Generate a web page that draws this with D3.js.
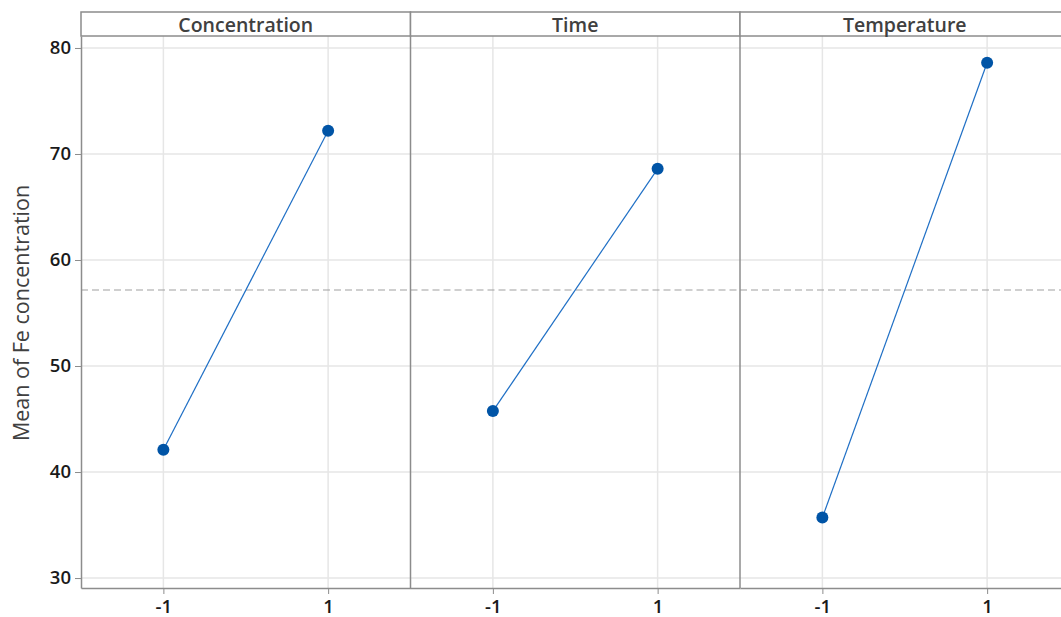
<!DOCTYPE html>
<html>
<head>
<meta charset="utf-8">
<script src="https://cdn.jsdelivr.net/npm/d3@7"></script>
<style>
body { margin: 0; background: #fff; }
text { font-family: "Open Sans", "Noto Sans", sans-serif; }
</style>
</head>
<body>
<div id="chart"></div>
<script>
// main effects plot data
var factors = ["Concentration", "Time", "Temperature"];
var levels = [-1, 1];
var levelLabels = ["-1", "1"];
var concentrationMeans = [42.1, 72.2];
var timeMeans = [45.75, 68.6];
var temperatureMeans = [35.7, 78.6];
var grandMean = 57.17;
var yTicks = [30, 40, 50, 60, 70, 80];

var series = [concentrationMeans, timeMeans, temperatureMeans];

var width = 1061, height = 617;
var plotLeft = 81, plotTop = 36, plotBottom = 588, panelW = 329.5;

var svg = d3.select("#chart").append("svg")
	.attr("width", width)
	.attr("height", height);

var y = d3.scaleLinear().domain([29.06, 81.13]).range([plotBottom, plotTop]);

// y label
svg.append("text")
	.attr("transform", "translate(29," + ((plotTop + plotBottom) / 2 + 1) + ") rotate(-90)")
	.attr("text-anchor", "middle")
	.style("font-size", "21.5px")
	.style("fill", "#404040")
	.text("Mean of Fe concentration");

factors.forEach(function(f, i) {
	var x0 = plotLeft + i * panelW;
	var x = d3.scaleLinear().domain([-2, 2]).range([x0, x0 + panelW]);
	var g = svg.append("g");

	// grid
	g.selectAll(".hg").data(yTicks).enter().append("line")
		.attr("x1", x0).attr("x2", x0 + panelW)
		.attr("y1", function(d) { return y(d); })
		.attr("y2", function(d) { return y(d); })
		.style("stroke", "#e6e6e6").style("stroke-width", 1.5);
	g.selectAll(".vg").data(levels).enter().append("line")
		.attr("x1", function(d) { return x(d); })
		.attr("x2", function(d) { return x(d); })
		.attr("y1", plotTop).attr("y2", plotBottom)
		.style("stroke", "#e6e6e6").style("stroke-width", 1.5);

	// mean reference line
	g.append("line")
		.attr("x1", x0).attr("x2", x0 + panelW)
		.attr("y1", y(grandMean)).attr("y2", y(grandMean))
		.style("stroke", "#a0a0a0").style("stroke-width", 1.2)
		.style("stroke-dasharray", "7,4");

	// strip
	g.append("rect")
		.attr("x", x0).attr("y", 12)
		.attr("width", panelW).attr("height", plotTop - 12)
		.style("fill", "#fff").style("stroke", "#8c8c8c").style("stroke-width", 1.5);
	g.append("text")
		.attr("x", x0 + panelW / 2).attr("y", 32)
		.attr("text-anchor", "middle")
		.style("font-size", "19.5px").style("font-weight", 600)
		.style("fill", "#404040")
		.text(f);

	// panel divider
	if (i > 0) {
		g.append("line")
			.attr("x1", x0).attr("x2", x0)
			.attr("y1", plotTop).attr("y2", plotBottom)
			.style("stroke", "#8c8c8c").style("stroke-width", 1.5);
	}

	// x axis
	var xa = g.append("g")
		.attr("transform", "translate(0," + plotBottom + ")")
		.call(d3.axisBottom(x).tickValues(levels).tickSizeInner(6).tickSizeOuter(0).tickPadding(6)
			.tickFormat(function(d, k) { return levelLabels[k]; }));
	xa.select(".domain").style("stroke", "#8c8c8c").style("stroke-width", 1.5);
	xa.selectAll(".tick line").style("stroke", "#8c8c8c");
	xa.selectAll("text").style("font-size", "18.5px").style("font-weight", 600).style("fill", "#1a1a1a")
		.style("font-family", "'Open Sans', sans-serif");

	// data
	var pts = levels.map(function(l, k) { return [l, series[i][k]]; });
	g.append("path")
		.datum(pts)
		.attr("d", d3.line().x(function(d) { return x(d[0]); }).y(function(d) { return y(d[1]); }))
		.style("fill", "none").style("stroke", "#1f6fc5").style("stroke-width", 1.2);
	g.selectAll("circle").data(pts).enter().append("circle")
		.attr("cx", function(d) { return x(d[0]); })
		.attr("cy", function(d) { return y(d[1]); })
		.attr("r", 6)
		.style("fill", "#0054a6");
});

// y axis
var ya = svg.append("g")
	.attr("transform", "translate(" + plotLeft + ",0)")
	.call(d3.axisLeft(y).tickValues(yTicks).tickSizeInner(6).tickSizeOuter(0).tickPadding(4));
ya.select(".domain").style("stroke", "#8c8c8c").style("stroke-width", 1.5);
ya.selectAll(".tick line").style("stroke", "#8c8c8c");
ya.selectAll("text").style("font-size", "18.5px").style("font-weight", 600).style("fill", "#1a1a1a")
	.style("font-family", "'Open Sans', sans-serif");
</script>
</body>
</html>
